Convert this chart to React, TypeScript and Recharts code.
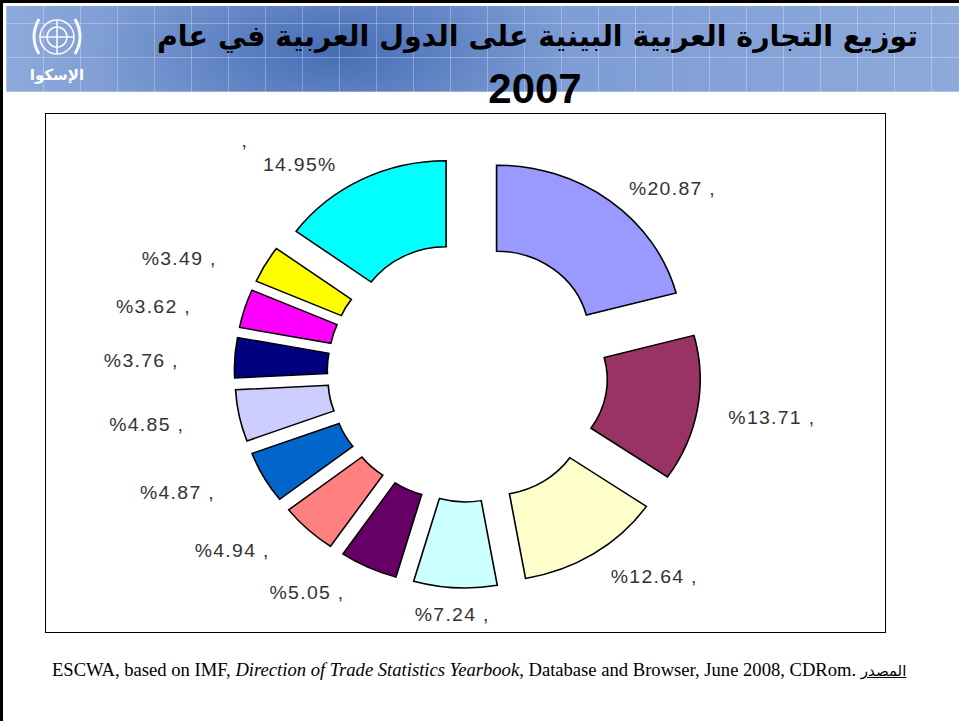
import React from 'react';
import { PieChart, Pie, Cell, Sector } from 'recharts';

// shares of intra-Arab trade, 2007 (clockwise from 12 o'clock)
const shares = [20.87, 13.71, 12.64, 7.24, 5.05, 4.94, 4.87, 4.85, 3.76, 3.62, 3.49, 14.95];
const labelTexts = ['%20.87 ,', '%13.71 ,', '%12.64 ,', '%7.24 ,', '%5.05 ,', '%4.94 ,', '%4.87 ,', '%4.85 ,', '%3.76 ,', '%3.62 ,', '%3.49 ,', '14.95%'];
const colors = ['#9999FF', '#993366', '#FFFFCC', '#CCFFFF', '#660066', '#FF8080', '#0066CC', '#CCCCFF', '#000080', '#FF00FF', '#FFFF00', '#00FFFF'];

const titleLine1 = 'توزيع التجارة العربية البينية على الدول العربية في عام';
const titleLine2 = '2007';
const sourceText = 'ESCWA, based on IMF, ';
const sourceItalic = 'Direction of Trade Statistics Yearbook';
const sourceRest = ', Database and Browser, June 2008, CDRom. ';
const sourceLabel = 'المصدر';

const data = shares.map((v, i) => ({ name: labelTexts[i], value: v }));

const RAD = Math.PI / 180;
const EXPLODE = 44;
const CX = 467.6;
const CY = 372;

const renderSlice = (props: any) => {
  const { cx, cy, innerRadius, outerRadius, startAngle, endAngle, midAngle, index } = props;
  const c = Math.cos(-midAngle * RAD);
  const s = Math.sin(-midAngle * RAD);
  const rx = c > 0 ? 245 : 268;
  const lx = cx + rx * c;
  const ly = cy + 5 + 238 * s;
  const anchor = c > 0.3 ? 'start' : c < -0.3 ? 'end' : 'middle';
  return (
    <g key={`slice-${index}`}>
      <Sector
        cx={cx + EXPLODE * c}
        cy={cy + EXPLODE * s}
        innerRadius={innerRadius}
        outerRadius={outerRadius}
        startAngle={startAngle}
        endAngle={endAngle}
        fill={colors[index]}
        stroke="#000"
        strokeWidth={1.5}
      />
      {index === shares.length - 1 && (
        <text x={lx - 88} y={ly - 24} fontSize={18} fill="#333" fontFamily="'Liberation Sans', Arial, sans-serif" dominantBaseline="central">,</text>
      )}
      <text
        x={lx}
        y={ly}
        textAnchor={anchor}
        dominantBaseline="central"
        fontSize={18}
        letterSpacing={1.2}
        fill="#333"
        fontFamily="'Liberation Sans', Arial, sans-serif"
      >
        {labelTexts[index]}
      </text>
    </g>
  );
};

const Logo = () => (
  <svg width={80} height={84} style={{ position: 'absolute', left: 17, top: 8 }}>
    <g fill="none" stroke="#fff" strokeWidth={1.6} opacity={0.95}>
      <circle cx={40} cy={29} r={17} />
      <circle cx={40} cy={29} r={10} />
      <line x1={23} y1={29} x2={57} y2={29} />
      <line x1={40} y1={12} x2={40} y2={46} />
      <path d="M22 46 Q12 29 22 11" strokeWidth={3} />
      <path d="M58 46 Q68 29 58 11" strokeWidth={3} />
    </g>
    <text x={40} y={72} textAnchor="middle" fill="#fff" fontSize={15} fontWeight="bold" fontFamily="'DejaVu Sans', sans-serif">الإسكوا</text>
  </svg>
);

export default function App() {
  return (
    <div style={{ position: 'absolute', left: 0, top: 0, width: 959, height: 721, overflow: 'hidden', background: '#fff' }}>
      {/* slide frame */}
      <div style={{ position: 'absolute', left: 0, top: 0, width: 990, height: 760, border: '3px solid #000', boxSizing: 'border-box' }} />
      {/* header banner */}
      <div
        style={{
          position: 'absolute', left: 6, top: 6, width: 953, height: 86,
          background:
            'repeating-linear-gradient(90deg, rgba(255,255,255,0.28) 0 1px, transparent 1px 37px),' +
            'repeating-linear-gradient(0deg, rgba(255,255,255,0.28) 0 1px, transparent 1px 34px),' +
            'radial-gradient(ellipse 240px 110px at 330px 45px, rgba(60,100,175,0.85), rgba(60,100,175,0) 100%),' +
            'linear-gradient(90deg, #8eaadc 0px, #7d9cd3 120px, #7f9ed5 600px, #8eaadb 959px)',
        }}
      />
      <Logo />
      <div
        dir="rtl"
        style={{
          position: 'absolute', left: 100, top: 20, width: 875, textAlign: 'center',
          fontFamily: "'DejaVu Sans', sans-serif", fontWeight: 'bold', fontSize: 28.5, color: '#000', whiteSpace: 'nowrap',
        }}
      >
        {titleLine1}
      </div>
      <div
        style={{
          position: 'absolute', left: 435, top: 65, width: 200, textAlign: 'center',
          fontFamily: "'Liberation Sans', Arial, sans-serif", fontWeight: 'bold', fontSize: 42, color: '#000',
        }}
      >
        {titleLine2}
      </div>
      {/* chart box */}
      <div style={{ position: 'absolute', left: 45, top: 113, width: 841, height: 520, border: '1px solid #000', boxSizing: 'border-box', background: '#fff' }} />
      <div style={{ position: 'absolute', left: 0, top: 0, width: 959, height: 721, transform: 'scaleX(1.08)', transformOrigin: `${CX}px ${CY}px` }}>
        <PieChart width={959} height={721} margin={{ top: 0, right: 0, bottom: 0, left: 0 }}>
          <Pie
            data={data}
            dataKey="value"
            cx={CX}
            cy={CY}
            startAngle={90}
            endAngle={-270}
            innerRadius={86}
            outerRadius={172}
            label={renderSlice}
            labelLine={false}
            isAnimationActive={false}
          >
            {data.map((d, i) => (
              <Cell key={i} fill="none" stroke="none" />
            ))}
          </Pie>
        </PieChart>
      </div>
      {/* source */}
      <div
        style={{
          position: 'absolute', left: 52, top: 659, whiteSpace: 'nowrap',
          fontFamily: "'Liberation Serif', 'Times New Roman', serif", fontSize: 18.6, color: '#000',
        }}
      >
        {sourceText}<i>{sourceItalic}</i>{sourceRest}
        <span style={{ textDecoration: 'underline', fontFamily: "'DejaVu Sans', sans-serif", fontSize: 15 }}>{sourceLabel}</span>
      </div>
    </div>
  );
}
